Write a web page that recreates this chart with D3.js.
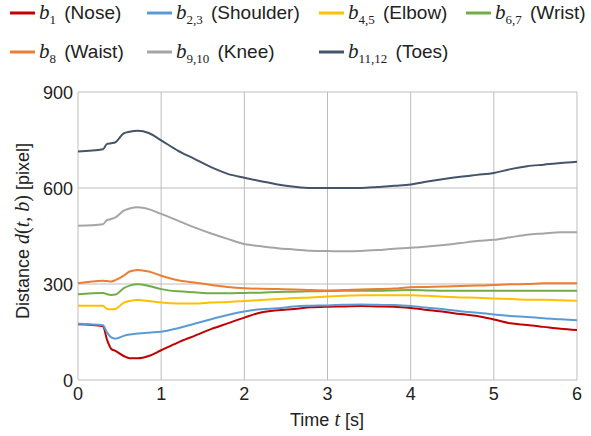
<!DOCTYPE html>
<html>
<head>
<meta charset="utf-8">
<script src="https://cdn.jsdelivr.net/npm/d3@7"></script>
<style>
  body { margin: 0; background: #fff; }
  svg text { font-family: "Liberation Sans", Arial, sans-serif; fill: #222; }
</style>
</head>
<body>
<div id="chart"></div>
<script>
// time samples [s]
const timeS = [0, 0.3, 0.35, 0.4, 0.45, 0.55, 0.62, 0.72, 0.85, 1.0, 1.2, 1.4, 1.6, 1.8, 2.0,
  2.2, 2.4, 2.6, 2.8, 3.0, 3.2, 3.4, 3.6, 3.8, 4.0, 4.2, 4.4, 4.6, 4.8, 5.0, 5.2, 5.4, 5.6, 5.8, 6.0];

// distance d(t,b) [pixel] per body part
const nose     = [174, 168, 125, 97, 91, 75, 68, 68, 75, 93, 117, 138, 159, 177, 195,
  211, 218, 222, 227, 229, 230, 231, 230, 229, 225, 219, 213, 206, 200, 189, 177, 172, 166, 160, 156];
const shoulder = [176, 171, 148, 133, 129, 138, 142, 145, 148, 151, 162, 176, 190, 203, 214,
  221, 224, 230, 232, 233, 235, 236, 235, 234, 231, 226, 221, 215, 210, 205, 200, 197, 193, 190, 187];
const elbow    = [232, 232, 222, 221, 222, 242, 247, 250, 247, 242, 239, 239, 242, 244, 247,
  250, 253, 256, 258, 261, 263, 265, 265, 265, 265, 263, 260, 258, 257, 255, 253, 251, 251, 249, 248];
const wrist    = [268, 272, 268, 266, 267, 287, 295, 299, 294, 284, 277, 274, 271, 271, 272,
  273, 275, 276, 277, 278, 279, 279, 279, 280, 281, 280, 279, 279, 279, 279, 279, 279, 279, 279, 279];
const waist    = [302, 310, 309, 308, 312, 326, 339, 344, 339, 326, 312, 305, 297, 291, 287,
  285, 284, 283, 281, 280, 281, 283, 284, 286, 290, 291, 292, 294, 295, 297, 299, 300, 302, 302, 302];
const knee     = [482, 487, 500, 503, 508, 529, 536, 540, 534, 519, 498, 477, 458, 441, 425,
  418, 412, 408, 404, 403, 402, 403, 406, 410, 413, 417, 422, 428, 434, 438, 446, 454, 458, 462, 462];
const toes     = [714, 721, 738, 740, 743, 771, 776, 779, 772, 749, 717, 691, 665, 644, 632,
  621, 611, 604, 600, 600, 600, 600, 603, 607, 611, 620, 628, 635, 641, 647, 659, 668, 673, 678, 682];

const seriesNames = ['Nose', 'Shoulder', 'Elbow', 'Wrist', 'Waist', 'Knee', 'Toes'];
const seriesSubs  = ['1', '2,3', '4,5', '6,7', '8', '9,10', '11,12'];
const seriesVals  = [nose, shoulder, elbow, wrist, waist, knee, toes];
const seriesColors = ['#C00000', '#5B9BD5', '#FFC000', '#70AD47', '#ED7D31', '#A5A5A5', '#44546A'];

const xTicks = [0, 1, 2, 3, 4, 5, 6];
const yTicks = [0, 300, 600, 900];

const W = 591, H = 436;
const svg = d3.select('#chart').append('svg').attr('width', W).attr('height', H);

const x = d3.scaleLinear().domain([0, 6]).range([78, 577]);
const y = d3.scaleLinear().domain([0, 900]).range([380, 92]);

// grid
svg.append('g').selectAll('line').data(xTicks).join('line')
  .attr('x1', d => x(d)).attr('x2', d => x(d))
  .attr('y1', y(0)).attr('y2', y(900))
  .attr('stroke', '#BDBDBD').attr('stroke-width', 1);
svg.append('g').selectAll('line').data(yTicks).join('line')
  .attr('x1', x(0)).attr('x2', x(6))
  .attr('y1', d => y(d)).attr('y2', d => y(d))
  .attr('stroke', '#BDBDBD').attr('stroke-width', 1);

// tick labels
svg.append('g').selectAll('text').data(xTicks).join('text')
  .attr('x', d => x(d)).attr('y', 400)
  .attr('text-anchor', 'middle').attr('font-size', 18)
  .text(d => d);
svg.append('g').selectAll('text').data(yTicks).join('text')
  .attr('x', 73).attr('y', d => y(d) + 7)
  .attr('text-anchor', 'end').attr('font-size', 18)
  .text(d => d);

// axis titles
const mathFont = '"Liberation Serif", "DejaVu Serif", serif';
const xt = svg.append('text').attr('x', 327).attr('y', 426)
  .attr('text-anchor', 'middle').attr('font-size', 18);
xt.append('tspan').text('Time ');
xt.append('tspan').attr('font-family', mathFont).attr('font-style', 'italic').attr('font-size', 20).text('t');
xt.append('tspan').text('  [s]');

const yt = svg.append('text')
  .attr('transform', 'translate(29,231) rotate(-90)')
  .attr('text-anchor', 'middle').attr('font-size', 18);
yt.append('tspan').text('Distance ');
[['d', true], ['(', false], ['t', true], [', ', false], ['b', true], [')', false]].forEach(([s, it]) => {
  yt.append('tspan').attr('font-family', mathFont).attr('font-size', 20)
    .attr('font-style', it ? 'italic' : 'normal').text(s);
});
yt.append('tspan').text(' [pixel]');

// lines
const line = d3.line()
  .x((d, i) => x(timeS[i]))
  .y(d => y(d))
  .curve(d3.curveMonotoneX);

svg.append('g').selectAll('path').data(seriesVals).join('path')
  .attr('d', d => line(d))
  .attr('fill', 'none')
  .attr('stroke', (d, i) => seriesColors[i])
  .attr('stroke-width', 2);

// legend
const legendPos = [[10, 13], [147, 13], [319, 13], [466, 13], [10, 52], [147, 52], [319, 52]];
const leg = svg.append('g').selectAll('g').data(seriesNames).join('g')
  .attr('transform', (d, i) => `translate(${legendPos[i][0]},${legendPos[i][1]})`);
leg.append('line').attr('x1', 0).attr('x2', 25).attr('y1', 0).attr('y2', 0)
  .attr('stroke', (d, i) => seriesColors[i]).attr('stroke-width', 3);
const lt = leg.append('text').attr('x', 29).attr('y', 6).attr('font-size', 19);
lt.append('tspan').attr('font-family', mathFont).attr('font-style', 'italic').attr('font-size', 21).text('b');
lt.append('tspan').attr('font-family', mathFont).attr('font-size', 13).attr('dy', 5)
  .text((d, i) => seriesSubs[i]);
lt.append('tspan').attr('dy', -5).attr('dx', 3).text(d => ` (${d})`);
</script>
</body>
</html>
